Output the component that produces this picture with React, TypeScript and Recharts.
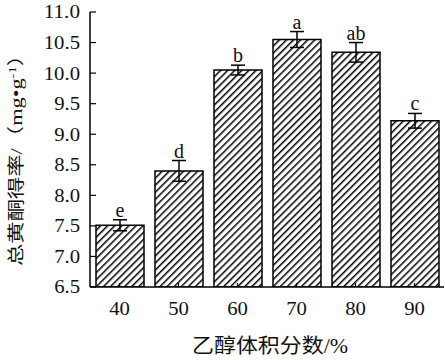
import React from 'react';
import { BarChart, Bar, XAxis, YAxis, ErrorBar, LabelList } from 'recharts';

const categories = ['40', '50', '60', '70', '80', '90'];
const yields = [7.51, 8.4, 10.05, 10.55, 10.34, 9.22];
const errors = [0.09, 0.17, 0.08, 0.13, 0.16, 0.12];
const letters = ['e', 'd', 'b', 'a', 'ab', 'c'];
const yTicks = [6.5, 7.0, 7.5, 8.0, 8.5, 9.0, 9.5, 10.0, 10.5, 11.0];

const data = categories.map((c, i) => ({ x: c, v: yields[i], err: errors[i], sig: letters[i] }));

const serif = "'Liberation Serif', 'Times New Roman', serif";
const cjk = "'Liberation Serif', 'Noto Sans CJK SC', serif";
const Y_MIN = 6.5;

// rough width of a number in Times, stretched a bit like the source
const numWidth = (s: string, fs: number) =>
  s.split('').reduce((w, ch) => w + (ch === '.' ? 0.25 : 0.5) * fs, 0) * 1.15;

const XTick = (props: any) => {
  const { x, y, payload } = props;
  const s = String(payload.value);
  return (
    <g>
      <line x1={x} x2={x} y1={y} y2={y - 4} stroke="#000" strokeWidth={1.2} />
      <text x={x} y={y + 28} textAnchor="middle" fontFamily={serif} fontSize={18} fill="#111"
        textLength={numWidth(s, 18)} lengthAdjust="spacingAndGlyphs">{s}</text>
    </g>
  );
};

const YTick = (props: any) => {
  const { x, y, payload } = props;
  const s = Number(payload.value).toFixed(1);
  return (
    <g>
      <line x1={x} x2={x + 6} y1={y} y2={y} stroke="#000" strokeWidth={1.2} />
      <text x={x - 10} y={y} dy="0.36em" textAnchor="end" fontFamily={serif} fontSize={18} fill="#111"
        textLength={numWidth(s, 18)} lengthAdjust="spacingAndGlyphs">{s}</text>
    </g>
  );
};

const SigLabel = (props: any) => {
  const { x, y, width, height, index } = props;
  const d = data[index];
  const perUnit = height / (d.v - Y_MIN);
  const top = y - d.err * perUnit;
  return (
    <text x={x + width / 2} y={top - 3} textAnchor="middle" fontFamily={serif} fontSize={20} fill="#111">
      {letters[index]}
    </text>
  );
};

export default function App() {
  return (
    <div style={{ position: 'absolute', left: 0, top: 0, background: '#fff' }}>
      <BarChart width={445} height={360} data={data} margin={{ top: 12, right: 1, bottom: 0, left: 0 }}>
        <defs>
          <pattern id="hatch" width="5" height="5" patternUnits="userSpaceOnUse" patternTransform="rotate(45)">
            <rect width="5" height="5" fill="#fff" />
            <line x1="0.75" y1="0" x2="0.75" y2="5" stroke="#000" strokeWidth={1.5} />
          </pattern>
        </defs>
        <XAxis
          dataKey="x"
          height={73}
          tickSize={0}
          tickMargin={0}
          tickLine={false}
          axisLine={{ stroke: '#000', strokeWidth: 1.5 }}
          tick={<XTick />}
          interval={0}
          label={{
            content: () => (
              <text x={270} y={346} dy="0.35em" textAnchor="middle" fontFamily={cjk} fontSize={20} fill="#111"
                textLength={156} lengthAdjust="spacingAndGlyphs">乙醇体积分数/%</text>
            ),
          }}
        />
        <YAxis
          width={90}
          domain={[6.5, 11]}
          ticks={yTicks}
          allowDataOverflow
          tickSize={0}
          tickMargin={0}
          tickLine={false}
          axisLine={{ stroke: '#000', strokeWidth: 1.5 }}
          tick={<YTick />}
          label={{
            content: () => (
              <text transform="translate(16,155) rotate(-90)" x={0} y={0} dy="0.35em" textAnchor="middle"
                fontFamily={cjk} fontSize={17} fill="#111" textLength={222} lengthAdjust="spacingAndGlyphs">
                总黄酮得率/（mg•g<tspan baselineShift="super" fontSize={11}>-1</tspan>）
              </text>
            ),
          }}
        />
        <Bar dataKey="v" barSize={48} fill="url(#hatch)" stroke="#000" strokeWidth={1.5} isAnimationActive={false}>
          <ErrorBar dataKey="err" width={7} stroke="#000" strokeWidth={1.5} direction="y" />
          <LabelList dataKey="sig" content={<SigLabel />} />
        </Bar>
      </BarChart>
    </div>
  );
}
